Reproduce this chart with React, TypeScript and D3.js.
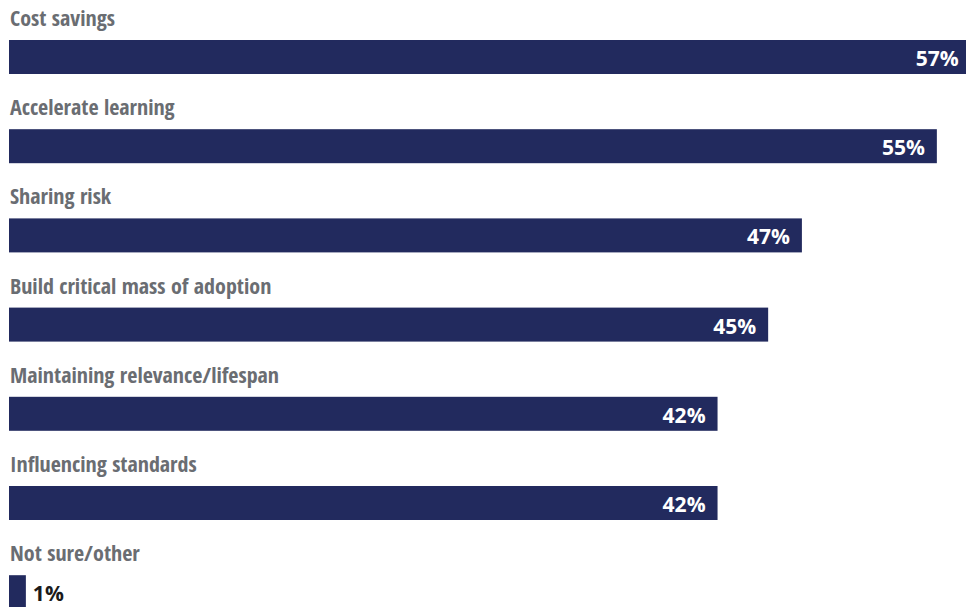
import React from "react";
import * as d3 from "d3";

const categories = [
  "Cost savings",
  "Accelerate learning",
  "Sharing risk",
  "Build critical mass of adoption",
  "Maintaining relevance/lifespan",
  "Influencing standards",
  "Not sure/other",
];
const values = [57, 55, 47, 45, 42, 42, 1];

const W = 966;
const H = 607;
const BAR_COLOR = "#222a5e";
const LABEL_COLOR = "#6a6d72";

export default function App() {
  const x = d3.scaleLinear().domain([0, 57]).range([0, 961.6]);
  const y = d3
    .scaleBand<string>()
    .domain(categories)
    .range([40, 40 + categories.length * 89.2])
    .paddingInner(0)
    .paddingOuter(0);
  const barH = 34;
  const left = 9;
  return (
    <svg
      width={W}
      height={H}
      style={{ position: "absolute", left: 0, top: 0, display: "block" }}
    >
      <rect width={W} height={H} fill="#ffffff" />
      {categories.map((c, i) => {
        const top = y(c) as number;
        const w = x(values[i]);
        const inside = w > 80;
        return (
          <g key={c}>
            <text
              x={10}
              y={top - 14}
              fill={LABEL_COLOR}
              fontFamily="'Open Sans Condensed', 'Liberation Sans Narrow', 'Open Sans', sans-serif"
              fontStretch="condensed"
              fontWeight={700}
              fontSize={22}
            >
              {c}
            </text>
            <rect x={left} y={top} width={w} height={barH} fill={BAR_COLOR} />
            <text
              x={inside ? left + w - 12 : left + w + 7}
              y={top + 26}
              textAnchor={inside ? "end" : "start"}
              fill={inside ? "#ffffff" : "#1a1a1a"}
              fontFamily="'Open Sans', sans-serif"
              fontWeight={700}
              fontSize={21}
            >
              {values[i]}%
            </text>
          </g>
        );
      })}
    </svg>
  );
}
